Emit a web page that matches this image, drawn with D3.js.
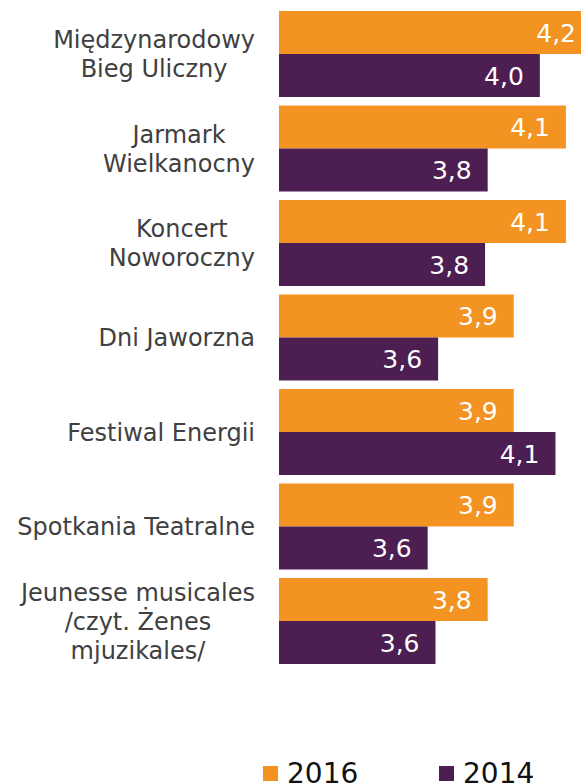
<!DOCTYPE html>
<html>
<head>
    <meta charset="utf-8">
    <script src="https://d3js.org/d3.v7.min.js"></script>
    <style>
        body { margin: 0; background: #fff; }
        .cat { font-family: "DejaVu Sans", Verdana, sans-serif; font-size: 24px; fill: #404040; }
        .val { font-family: "DejaVu Sans", Verdana, sans-serif; font-size: 25px; fill: #fff; }
        .leg { font-family: "DejaVu Sans", Verdana, sans-serif; font-size: 28px; fill: #111; }
    </style>
</head>
<body>
<div id="chart"></div>
<script>
    // Dane
    const categories = [
        ["Międzynarodowy", "Bieg Uliczny"],
        ["Jarmark", "Wielkanocny"],
        ["Koncert", "Noworoczny"],
        ["Dni Jaworzna"],
        ["Festiwal Energii"],
        ["Spotkania Teatralne"],
        ["Jeunesse musicales", "/czyt. Żenes", "mjuzikales/"]
    ];
    const seriesNames = ["2016", "2014"];
    const values2016 = [4.2, 4.1, 4.1, 3.9, 3.9, 3.9, 3.8];
    const values2014 = [4.0, 3.8, 3.79, 3.61, 4.06, 3.57, 3.6];
    const colors = ["#F39322", "#4C1E51"];

    const width = 581, height = 784;

    const svg = d3.select("#chart").append("svg")
        .attr("width", width)
        .attr("height", height);

    const ids = d3.range(categories.length);

    const y0 = d3.scaleBand()
        .domain(ids)
        .range([11, 664])
        .paddingInner(0.09)
        .paddingOuter(0);

    const y1 = d3.scaleBand()
        .domain(seriesNames)
        .range([0, y0.bandwidth()]);

    const x = d3.scaleLinear()
        .domain([3, 4.2])
        .range([279, 592]);

    const fmt = v => d3.format(".1f")(v).replace(".", ",");

    const series = [values2016, values2014];

    const groups = svg.selectAll(".grp")
        .data(ids)
      .enter().append("g")
        .attr("class", "grp")
        .attr("transform", i => "translate(0," + y0(i) + ")");

    seriesNames.forEach((name, s) => {
        groups.append("rect")
            .attr("x", x(3))
            .attr("y", y1(name))
            .attr("width", i => x(series[s][i]) - x(3))
            .attr("height", y1.bandwidth())
            .attr("fill", colors[s]);

        groups.append("text")
            .attr("class", "val")
            .attr("x", i => x(series[s][i]) - 16)
            .attr("y", y1(name) + y1.bandwidth() / 2)
            .attr("dy", "0.37em")
            .attr("text-anchor", "end")
            .text(i => fmt(series[s][i]));
    });

    // Etykiety kategorii: blok wyrównany do prawej, linie wyśrodkowane
    const lineH = 29, labelRight = 255;
    groups.append("text")
        .attr("class", "cat")
        .attr("text-anchor", "middle")
        .each(function(i) {
            const lines = categories[i];
            const t = d3.select(this);
            const c = y0.bandwidth() / 2;
            const spans = lines.map((l, k) => t.append("tspan")
                .attr("y", c + (k - (lines.length - 1) / 2) * lineH)
                .attr("dy", "0.36em")
                .text(l));
            const maxW = d3.max(spans, sp => sp.node().getComputedTextLength());
            spans.forEach(sp => sp.attr("x", labelRight - maxW / 2));
        });

    // Legenda
    const legX = [263, 439];
    const leg = svg.selectAll(".legitem")
        .data(seriesNames)
      .enter().append("g")
        .attr("transform", (d, i) => "translate(" + legX[i] + ",0)");

    leg.append("rect")
        .attr("y", 766)
        .attr("width", 15)
        .attr("height", 15)
        .attr("fill", (d, i) => colors[i]);

    leg.append("text")
        .attr("class", "leg")
        .attr("x", 24)
        .attr("y", 783)
        .text(d => d);
</script>
</body>
</html>
